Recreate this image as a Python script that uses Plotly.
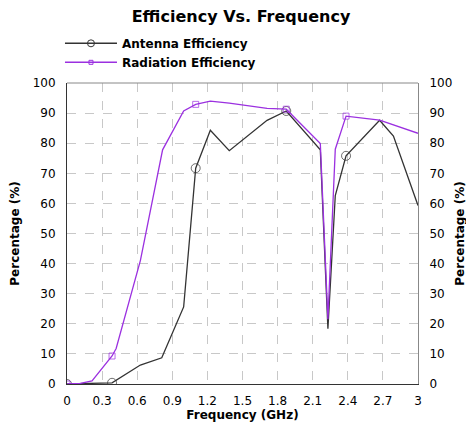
import plotly.graph_objects as go

freq_ant = [0.0, 0.385, 0.627, 0.81, 0.997, 1.10, 1.225, 1.387, 1.71, 1.874, 2.165, 2.23, 2.293, 2.385, 2.672, 2.79, 3.0]
ant_eff = [0.0, 0.4, 6.3, 8.7, 25.6, 71.7, 84.3, 77.5, 87.6, 90.7, 77.8, 18.4, 62.6, 75.8, 87.6, 82.4, 59.3]
ant_marker_idx = [0, 1, 5, 9, 13]

freq_rad = [0.0, 0.114, 0.214, 0.385, 0.42, 0.627, 0.817, 0.997, 1.10, 1.225, 1.387, 1.71, 1.874, 2.165, 2.23, 2.293, 2.385, 2.672, 3.0]
rad_eff = [0.0, 0.2, 1.0, 9.3, 11.8, 41.0, 77.8, 90.7, 92.9, 94.0, 93.3, 91.6, 91.3, 79.9, 21.5, 78.0, 89.0, 87.7, 83.3]
rad_marker_idx = [0, 3, 8, 12, 16]

x_ticks = [0, 0.3, 0.6, 0.9, 1.2, 1.5, 1.8, 2.1, 2.4, 2.7, 3]
x_ticklabels = ["0", "0.3", "0.6", "0.9", "1.2", "1.5", "1.8", "2.1", "2.4", "2.7", "3"]
y_ticks = list(range(0, 101, 10))

BLACK = "#333333"
PURPLE = "#9b30e0"
FONT = "DejaVu Sans, Verdana, sans-serif"


def sizes(n, idx, s):
    return [s if i in idx else 0 for i in range(n)]


fig = go.Figure()
series = [
    ("Antenna Efficiency", freq_ant, ant_eff, ant_marker_idx, BLACK, "circle-open", 9),
    ("Radiation Efficiency", freq_rad, rad_eff, rad_marker_idx, PURPLE, "square-open", 6),
]
for name, xs, ys, idx, col, sym, ms in series:
    fig.add_trace(go.Scatter(
        x=xs, y=ys, mode="lines+markers", name=name, showlegend=False,
        line=dict(color=col, width=1.3),
        marker=dict(symbol=sym, color=col, size=sizes(len(xs), idx, ms), line=dict(width=1)),
    ))
for name, xs, ys, idx, col, sym, ms in series:
    fig.add_trace(go.Scatter(
        x=[None], y=[None], mode="lines+markers", name=name, showlegend=True,
        line=dict(color=col, width=1.5),
        marker=dict(symbol=sym, color=col, size=ms - 2, line=dict(width=1)),
    ))
# invisible trace for the right axis
fig.add_trace(go.Scatter(x=[0, 3], y=[0, 100], yaxis="y2", mode="lines",
                         line=dict(width=0), showlegend=False, hoverinfo="skip", opacity=0))

grid = dict(showgrid=True, gridcolor="#c8c8c8", griddash="dash", gridwidth=1)

# page has an 8px body margin, so the figure is 8px smaller than the window
fig.update_layout(
    width=466, height=419,
    margin=dict(l=59, r=56, t=75, b=43, autoexpand=False),
    paper_bgcolor="white", plot_bgcolor="white",
    font=dict(family=FONT, size=12, color="black"),
    title=dict(text="<b>Efficiency Vs. Frequency</b>", x=0.5, xanchor="center", xref="container",
               y=0.993, yanchor="top", font=dict(size=16, color="black")),
    showlegend=True,
    legend=dict(x=-0.02, y=1.18, xanchor="left", yanchor="top",
                font=dict(size=12, color="black", weight="bold"), bgcolor="rgba(0,0,0,0)",
                tracegroupgap=0, itemwidth=52),
    xaxis=dict(range=[0, 3], tickmode="array", tickvals=x_ticks, ticktext=x_ticklabels,
               showline=True, linecolor="#333333", linewidth=1, mirror=False,
               ticks="outside", ticklen=6, tickcolor="rgba(0,0,0,0)", zeroline=False, tickangle=0,
               title=dict(text="<b>Frequency (GHz)</b>", standoff=0, font=dict(size=12)),
               tickfont=dict(size=12), **grid),
    yaxis=dict(range=[0, 100], tickmode="array", tickvals=y_ticks,
               showline=True, linecolor="#333333", linewidth=1, zeroline=False,
               ticks="outside", ticklen=8, tickcolor="rgba(0,0,0,0)",
               title=dict(text="<b>Percentage (%)</b>", standoff=14, font=dict(size=12)),
               tickfont=dict(size=12), **grid),
    yaxis2=dict(range=[0, 100], tickmode="array", tickvals=y_ticks, overlaying="y", side="right",
                showline=True, linecolor="#888888", linewidth=1, zeroline=False,
                ticks="outside", ticklen=8, tickcolor="rgba(0,0,0,0)",
                showgrid=False,
                title=dict(text="<b>Percentage (%)</b>", standoff=4, font=dict(size=12)),
                tickfont=dict(size=12)),
)
# top border
fig.add_shape(type="line", xref="paper", yref="paper", x0=0, x1=1, y0=1, y1=1,
              line=dict(color="#888888", width=1))

fig.write_html("out.html")
